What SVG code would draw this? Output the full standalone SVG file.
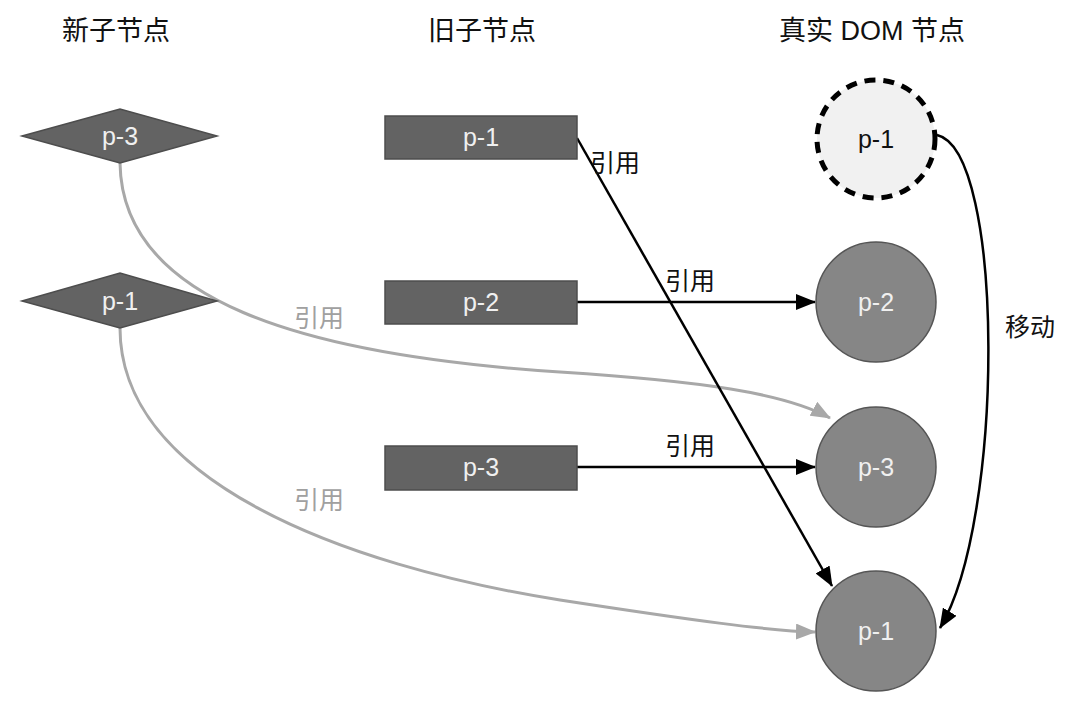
<svg xmlns="http://www.w3.org/2000/svg" width="1076" height="712" viewBox="0 0 1076 712">
<style>
.t{font-family:"Liberation Sans","Noto Sans CJK SC",Arial,sans-serif;}
.title{font-size:27px;fill:#111;}
.lbl{font-size:25px;fill:#f0f0f0;text-anchor:middle;}
.lbld{font-size:25px;fill:#111;text-anchor:middle;}
.ref{font-size:25px;fill:#111;}
.refg{font-size:25px;fill:#a0a0a0;}
.box{fill:#636363;stroke:#4d4d4d;stroke-width:1.5;}
.dia{fill:#636363;stroke:#4d4d4d;stroke-width:1.5;}
.circ{fill:#868686;stroke:#555;stroke-width:1.5;}
.blk{fill:none;stroke:#000;stroke-width:2.5;}
.gry{fill:none;stroke:#a8a8a8;stroke-width:3;}
</style>
<defs>
<marker id="ab" markerUnits="userSpaceOnUse" viewBox="0 0 20 16" markerWidth="20" markerHeight="16" refX="19" refY="8" orient="auto">
<path d="M0,0 L20,8 L0,16 z" fill="#000"/>
</marker>
<marker id="ag" markerUnits="userSpaceOnUse" viewBox="0 0 20 16" markerWidth="20" markerHeight="16" refX="19" refY="8" orient="auto">
<path d="M0,0 L20,8 L0,16 z" fill="#a8a8a8"/>
</marker>
</defs>
<rect width="1076" height="712" fill="#fff"/>
<g id="titles" class="t">
<text class="title" x="62" y="40">新子节点</text>
<text class="title" x="428" y="40">旧子节点</text>
<text class="title" x="779" y="40">真实 DOM 节点</text>
</g>
<g id="connectors">
<path class="gry" d="M120,163 C122,300 300,355 560,372 C700,381 785,393 830,418" marker-end="url(#ag)"/>
<path class="gry" d="M120,328 C120,480 340,565 560,600 C690,620 770,631 815,632" marker-end="url(#ag)"/>
<path class="blk" d="M577,138 L832,586" marker-end="url(#ab)"/>
<path class="blk" d="M577,302 L815,302" marker-end="url(#ab)"/>
<path class="blk" d="M577,467 L815,467" marker-end="url(#ab)"/>
<path class="blk" d="M937,135 C1005,150 1005,520 940,628" marker-end="url(#ab)"/>
<g class="t">
<text class="ref" x="590" y="172">引用</text>
<text class="ref" x="665" y="290">引用</text>
<text class="ref" x="665" y="455">引用</text>
<text class="refg" x="294" y="327">引用</text>
<text class="refg" x="294" y="509">引用</text>
<text class="ref" x="1005" y="336">移动</text>
</g>
</g>
<g id="new-p3" class="t">
<polygon class="dia" points="22,136 120,109 217,136 120,163"/>
<text class="lbl" x="120" y="145">p-3</text>
</g>
<g id="new-p1" class="t">
<polygon class="dia" points="22,301 120,273 217,301 120,328"/>
<text class="lbl" x="120" y="310">p-1</text>
</g>
<g id="old-p1" class="t">
<rect class="box" x="385" y="116" width="192" height="43"/>
<text class="lbl" x="481" y="146">p-1</text>
</g>
<g id="old-p2" class="t">
<rect class="box" x="385" y="281" width="192" height="43"/>
<text class="lbl" x="481" y="311">p-2</text>
</g>
<g id="old-p3" class="t">
<rect class="box" x="385" y="446" width="192" height="44"/>
<text class="lbl" x="481" y="476">p-3</text>
</g>
<g id="dom-p1-old" class="t">
<circle cx="876" cy="139" r="59" fill="#f1f1f1" stroke="#000" stroke-width="5" stroke-dasharray="11,8"/>
<text class="lbld" x="876" y="148">p-1</text>
</g>
<g id="dom-p2" class="t">
<circle class="circ" cx="876" cy="302" r="60"/>
<text class="lbl" x="876" y="311">p-2</text>
</g>
<g id="dom-p3" class="t">
<circle class="circ" cx="876" cy="467" r="60"/>
<text class="lbl" x="876" y="476">p-3</text>
</g>
<g id="dom-p1" class="t">
<circle class="circ" cx="876" cy="631" r="60"/>
<text class="lbl" x="876" y="640">p-1</text>
</g>
</svg>
